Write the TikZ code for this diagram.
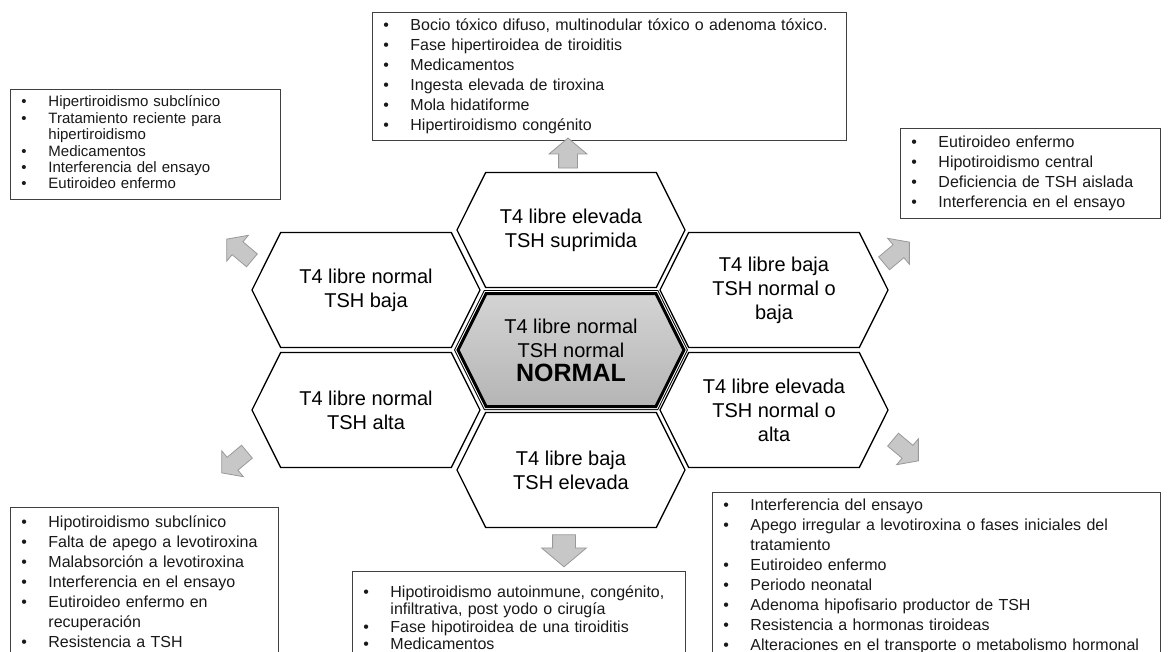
\documentclass[tikz,border=0pt]{standalone}
\usepackage{fontspec}
\setmainfont{Liberation Sans}
\usetikzlibrary{shapes.symbols,shapes.arrows}

\newcommand{\itm}{\strut\makebox[27pt][l]{\textbullet}}
\newcommand{\cnt}{\strut\hspace*{27pt}}

\begin{document}
\begin{tikzpicture}[x=1pt,y=-1pt]
            \tikzstyle{hex}=[signal,signal to=east and west,signal pointer angle=127,draw,line width=1.3pt,minimum width=228pt,minimum height=115pt,inner sep=0pt,align=center,font=\fontsize{20}{24}\selectfont]
            \tikzstyle{main hex}=[hex,line width=3pt,minimum width=226pt,minimum height=113pt,top color=black!17,bottom color=black!29,preaction={draw,line width=7pt},preaction={draw=white,line width=5pt}]
            \tikzstyle{list}=[draw=black!75,line width=0.9pt,anchor=north west,align=left,inner xsep=11pt,text=black!90,font=\fontsize{16}{20}\selectfont]
            \tikzstyle{block arrow}=[single arrow,draw=black!40,fill=black!22,line width=0.8pt,minimum height=30pt,inner xsep=0pt,inner ysep=9pt,single arrow head extend=9.5pt,single arrow tip angle=100]
            \tikzstyle{small arrow}=[block arrow,minimum height=33pt,inner ysep=8pt,single arrow head extend=8.5pt]

            \useasboundingbox (0,0) rectangle (1169,652);
            \fill[white] (0,0) rectangle (1169,652);
            \clip (0,0) rectangle (1169,652);

            % hexagons
            \node(elevsup)[hex] at (571,230) {T4 libre elevada\\TSH suprimida};
            \node(normbaja)[hex] at (366,290) {T4 libre normal\\TSH baja};
            \node(normalta)[hex] at (366,410) {T4 libre normal\\TSH alta};
            \node(bajaelev)[hex] at (571,470) {T4 libre baja\\TSH elevada};
            \node(bajanorm)[hex] at (774,290) {T4 libre baja\\TSH normal o\\baja};
            \node(elevnorm)[hex] at (774,410) {T4 libre elevada\\TSH normal o\\alta};
            \node(normal)[main hex] at (571,350) {T4 libre normal\\TSH normal\\{\fontsize{25}{27}\selectfont\bfseries NORMAL}};

            % causes
            \node(elevsupL)[list,text width=452pt,inner ysep=4pt] at (372,12) {\itm Bocio tóxico difuso, multinodular tóxico o adenoma tóxico.\\
            \itm Fase hipertiroidea de tiroiditis\\
            \itm Medicamentos\\
            \itm Ingesta elevada de tiroxina\\
            \itm Mola hidatiforme\\
            \itm Hipertiroidismo congénito};
            \node(normbajaL)[list,text width=248pt,inner ysep=6pt,font=\fontsize{15}{16.4}\selectfont] at (10,89) {\itm Hipertiroidismo subclínico\\
            \itm Tratamiento reciente para\\
            \cnt hipertiroidismo\\
            \itm Medicamentos\\
            \itm Interferencia del ensayo\\
            \itm Eutiroideo enfermo};
            \node(bajanormL)[list,text width=238pt,inner ysep=5pt] at (900,128) {\itm Eutiroideo enfermo\\
            \itm Hipotiroidismo central\\
            \itm Deficiencia de TSH aislada\\
            \itm Interferencia en el ensayo};
            \node(normaltaL)[list,text width=246pt,inner ysep=6pt] at (10,507) {\itm Hipotiroidismo subclínico\\
            \itm Falta de apego a levotiroxina\\
            \itm Malabsorción a levotiroxina\\
            \itm Interferencia en el ensayo\\
            \itm Eutiroideo enfermo en\\
            \cnt recuperación\\
            \itm Resistencia a TSH};
            \node(bajaelevL)[list,text width=311pt,inner ysep=13.75pt,font=\fontsize{16}{17.5}\selectfont] at (352,571) {\itm Hipotiroidismo autoinmune, congénito,\\
            \cnt infiltrativa, post yodo o cirugía\\
            \itm Fase hipotiroidea de una tiroiditis\\
            \itm Medicamentos};
            \node(elevnormL)[list,text width=426pt,inner ysep=4pt] at (712,492) {\itm Interferencia del ensayo\\
            \itm Apego irregular a levotiroxina o fases iniciales del\\
            \cnt tratamiento\\
            \itm Eutiroideo enfermo\\
            \itm Periodo neonatal\\
            \itm Adenoma hipofisario productor de TSH\\
            \itm Resistencia a hormonas tiroideas\\
            \itm Alteraciones en el transporte o metabolismo hormonal};

            % arrows
            \node(a1)[block arrow,rotate=90] at (568,157) {};
            \node(a2)[small arrow,rotate=140] at (242,252) {};
            \node(a3)[small arrow,rotate=220] at (237,460) {};
            \node(a4)[block arrow,rotate=-90,inner ysep=11pt,single arrow head extend=11pt,minimum height=32pt] at (564,546) {};
            \node(a5)[small arrow,rotate=40] at (894,255) {};
            \node(a6)[small arrow,rotate=-40] at (903,448) {};
        \end{tikzpicture}
\end{document}
